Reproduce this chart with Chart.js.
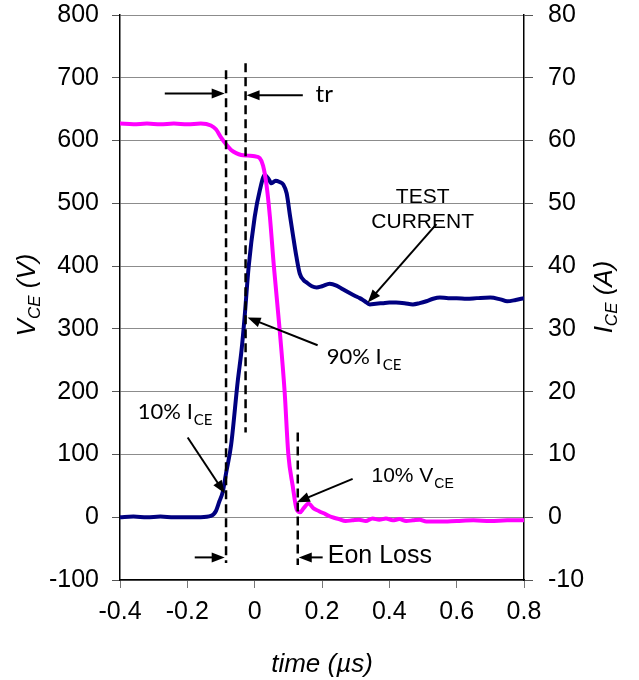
<!DOCTYPE html>
<html>
<head>
<meta charset="utf-8">
<script src="https://cdn.jsdelivr.net/npm/chart.js@4/dist/chart.umd.min.js"></script>
<style>
  html, body { margin: 0; padding: 0; background: #fff; }
</style>
</head>
<body>
<canvas id="chart-turnon" width="639" height="680"></canvas>
<script>
// V_CE trace (left axis, volts)
const timeV = [-0.40, -0.36, -0.32, -0.28, -0.24, -0.20, -0.16, -0.13, -0.115, -0.10, -0.085, -0.07, -0.055, -0.04, -0.02, 0.00, 0.015,
  0.025, 0.035, 0.045, 0.057, 0.074, 0.089, 0.100, 0.113, 0.125, 0.135, 0.145, 0.16, 0.175, 0.19, 0.21, 0.23, 0.25, 0.27, 0.29,
  0.31, 0.33, 0.35, 0.37, 0.39, 0.41, 0.43, 0.45, 0.47, 0.49, 0.51, 0.55, 0.60, 0.65, 0.70, 0.75, 0.80];
const vce = [627, 626, 627, 626, 627, 626, 627, 624, 618, 605, 594, 585, 580, 577, 576, 575, 572,
  560, 530, 480, 400, 300, 200, 100, 50, 12, 8, 14, 22, 14, 10, 5, 0, -3, -6, -5,
  -4, -6, -2, -4, -2, -5, -3, -6, -5, -4, -7, -7, -6, -5, -6, -5, -5];

// I_CE trace (right axis, amps)
const timeI = [-0.40, -0.36, -0.32, -0.28, -0.24, -0.20, -0.16, -0.13, -0.115, -0.105, -0.095, -0.085, -0.07, -0.05, -0.039, -0.03,
  -0.018, 0.00, 0.015, 0.03, 0.04, 0.05, 0.062, 0.074, 0.085, 0.095, 0.105, 0.113, 0.124, 0.134, 0.145, 0.154, 0.17, 0.184, 0.20,
  0.223, 0.243, 0.262, 0.282, 0.30, 0.312, 0.327, 0.342, 0.36, 0.38, 0.40, 0.42, 0.445, 0.47, 0.49, 0.51, 0.53, 0.55, 0.575,
  0.60, 0.63, 0.66, 0.70, 0.73, 0.75, 0.775, 0.80];
const ice = [0, 0.1, 0, 0.1, 0, 0, 0, 0.2, 1, 2.5, 4, 7, 11.5, 21.8, 26.6, 31.8,
  39.8, 47.8, 52, 54.5, 54, 53.2, 53.6, 53.4, 53, 51.6, 48, 45.2, 41.5, 38.8, 37.8, 37.4, 36.8, 36.6, 36.8,
  37.2, 36.9, 36.3, 35.7, 35.2, 34.9, 34.4, 33.9, 34, 34.1, 34.2, 34.2, 34.1, 33.9, 34.1, 34.4, 34.8, 35, 34.9,
  34.9, 34.8, 34.9, 35, 34.7, 34.4, 34.6, 34.9];

// dashed timing markers (time, top V, bottom V)
const markerTime = [-0.085, -0.027, 0.128];
const markerTop = [712, 723, 135];
const markerBottom = [-73, 135, -76];

const xTicks = [-0.4, -0.2, 0, 0.2, 0.4, 0.6, 0.8];
const vTicks = [-100, 0, 100, 200, 300, 400, 500, 600, 700, 800];
const iTicks = [-10, 0, 10, 20, 30, 40, 50, 60, 70, 80];

// annotations in data coords (time, V)
const arrows = [
  { from: [-0.267, 675], to: [-0.089, 675] },
  { from: [0.143, 672], to: [-0.024, 672] },
  { from: [0.54, 467], to: [0.336, 342] },
  { from: [0.187, 274], to: [-0.021, 318] },
  { from: [-0.199, 127], to: [-0.089, 38] },
  { from: [0.291, 61], to: [0.125, 24] },
  { from: [0.202, -64], to: [0.131, -64] },
  { from: [-0.178, -64], to: [-0.089, -64] }
];
const labels = [
  { at: [0.181, 661], text: "tr", font: "24px Lato" },
  { at: [0.499, 500], text: "TEST", font: "21px 'Liberation Sans'", align: "center" },
  { at: [0.499, 460], text: "CURRENT", font: "21px 'Liberation Sans'", align: "center" },
  { at: [0.214, 244], text: "90% I", sub: "CE", font: "22px Lato", subFont: "15px Lato" },
  { at: [-0.347, 156], text: "10% I", sub: "CE", font: "22px Lato", subFont: "15px Lato" },
  { at: [0.347, 56], text: "10% V", sub: "CE", font: "21px 'Liberation Sans'", subFont: "14px 'Liberation Sans'" },
  { at: [0.217, -73], text: "Eon Loss", font: "25px 'Liberation Sans'" }
];

const markerSets = markerTime.map((t, i) => ({
  data: [{ x: t, y: markerTop[i] }, { x: t, y: markerBottom[i] }],
  yAxisID: "y",
  borderColor: "#000",
  borderWidth: 2.5,
  borderDash: [9, 5],
  pointRadius: 0,
  order: 0
}));

function drawArrow(ctx, x1, y1, x2, y2) {
  const ang = Math.atan2(y2 - y1, x2 - x1);
  const len = 13, half = 5;
  ctx.beginPath();
  ctx.moveTo(x1, y1);
  ctx.lineTo(x2 - Math.cos(ang) * len * 0.8, y2 - Math.sin(ang) * len * 0.8);
  ctx.stroke();
  ctx.beginPath();
  ctx.moveTo(x2, y2);
  ctx.lineTo(x2 - Math.cos(ang) * len - Math.sin(ang) * half, y2 - Math.sin(ang) * len + Math.cos(ang) * half);
  ctx.lineTo(x2 - Math.cos(ang) * len + Math.sin(ang) * half, y2 - Math.sin(ang) * len - Math.cos(ang) * half);
  ctx.closePath();
  ctx.fill();
}

function drawSubText(ctx, x, y, main, sub, font, subFont, dy) {
  ctx.font = font;
  ctx.fillText(main, x, y);
  if (!sub) return;
  const w = ctx.measureText(main).width;
  ctx.font = subFont;
  ctx.fillText(sub, x + w + 1, y + dy);
}

const notesPlugin = {
  id: "notes",
  afterDatasetsDraw(chart) {
    const ctx = chart.ctx;
    const xs = chart.scales.x, ys = chart.scales.y;
    ctx.save();
    ctx.strokeStyle = "#000";
    ctx.fillStyle = "#000";
    ctx.lineWidth = 2;
    arrows.forEach(a => {
      drawArrow(ctx, xs.getPixelForValue(a.from[0]), ys.getPixelForValue(a.from[1]),
        xs.getPixelForValue(a.to[0]), ys.getPixelForValue(a.to[1]));
    });
    ctx.textBaseline = "alphabetic";
    labels.forEach(l => {
      ctx.textAlign = l.align || "left";
      drawSubText(ctx, xs.getPixelForValue(l.at[0]), ys.getPixelForValue(l.at[1]), l.text, l.sub, l.font, l.subFont, 6);
    });
    ctx.restore();
  },
  afterDraw(chart) {
    // axis titles with subscripts
    const ctx = chart.ctx;
    const area = chart.chartArea;
    ctx.save();
    ctx.fillStyle = "#000";
    ctx.textAlign = "left";
    ctx.textBaseline = "alphabetic";
    const title = (cx, cy, a, b, c) => {
      ctx.save();
      ctx.translate(cx, cy);
      ctx.rotate(-Math.PI / 2);
      ctx.font = "italic 26px 'Liberation Sans'";
      const wa = ctx.measureText(a).width;
      const wc = ctx.measureText(c).width;
      ctx.font = "italic 17px 'Liberation Sans'";
      const wb = ctx.measureText(b).width;
      let x = -(wa + wb + wc) / 2;
      ctx.font = "italic 26px 'Liberation Sans'";
      ctx.fillText(a, x, 0);
      ctx.font = "italic 17px 'Liberation Sans'";
      ctx.fillText(b, x + wa, 5);
      ctx.font = "italic 26px 'Liberation Sans'";
      ctx.fillText(c, x + wa + wb, 0);
      ctx.restore();
    };
    title(35, 295, "V", "CE", " (V)");
    title(612, 297, "I", "CE", " (A)");
    ctx.font = "italic 26px 'Liberation Sans'";
    ctx.textAlign = "center";
    ctx.fillText("time (\u00b5s)", (area.left + area.right) / 2, 672);
    ctx.restore();
  }
};

const tickFont = { family: "'Liberation Sans', Arial, sans-serif", size: 25 };

new Chart(document.getElementById("chart-turnon"), {
  type: "line",
  data: {
    datasets: [
      {
        label: "VCE",
        data: timeV.map((t, i) => ({ x: t, y: vce[i] })),
        yAxisID: "y",
        borderColor: "#ff00ff",
        borderWidth: 4,
        pointRadius: 0,
        cubicInterpolationMode: "monotone",
        order: 1
      },
      {
        label: "ICE",
        data: timeI.map((t, i) => ({ x: t, y: ice[i] })),
        yAxisID: "y2",
        borderColor: "#000080",
        borderWidth: 4,
        pointRadius: 0,
        cubicInterpolationMode: "monotone",
        order: 2
      },
      ...markerSets
    ]
  },
  options: {
    responsive: false,
    animation: false,
    devicePixelRatio: 1,
    layout: { padding: 0 },
    plugins: {
      legend: { display: false },
      tooltip: { enabled: false }
    },
    scales: {
      x: {
        type: "linear",
        min: -0.4,
        max: 0.8,
        afterBuildTicks: s => { s.ticks = xTicks.map(v => ({ value: v })); },
        afterFit: s => { s.height = 100; },
        ticks: { font: tickFont, color: "#000", padding: 9, maxRotation: 0, autoSkip: false, callback: v => String(v) },
        grid: { drawOnChartArea: false, tickLength: 8, color: "#777" },
        border: { color: "#000", width: 1.5 }
      },
      y: {
        position: "left",
        min: -100,
        max: 800,
        afterBuildTicks: s => { s.ticks = vTicks.map(v => ({ value: v })); },
        afterFit: s => { s.width = 120; s.paddingTop = 15; s.paddingBottom = 0; },
        ticks: { font: tickFont, color: "#000", padding: 13, autoSkip: false },
        grid: { color: "#8c8c8c", tickLength: 8, tickColor: "#555" },
        border: { color: "#000", width: 1.5 }
      },
      y2: {
        position: "right",
        min: -10,
        max: 80,
        afterBuildTicks: s => { s.ticks = iTicks.map(v => ({ value: v })); },
        afterFit: s => { s.width = 115; s.paddingTop = 15; s.paddingBottom = 0; },
        ticks: { font: tickFont, color: "#000", padding: 15, autoSkip: false },
        grid: { drawOnChartArea: false, tickLength: 9, color: "#555" },
        border: { color: "#000", width: 1.5 }
      }
    }
  },
  plugins: [notesPlugin]
});
</script>
</body>
</html>
